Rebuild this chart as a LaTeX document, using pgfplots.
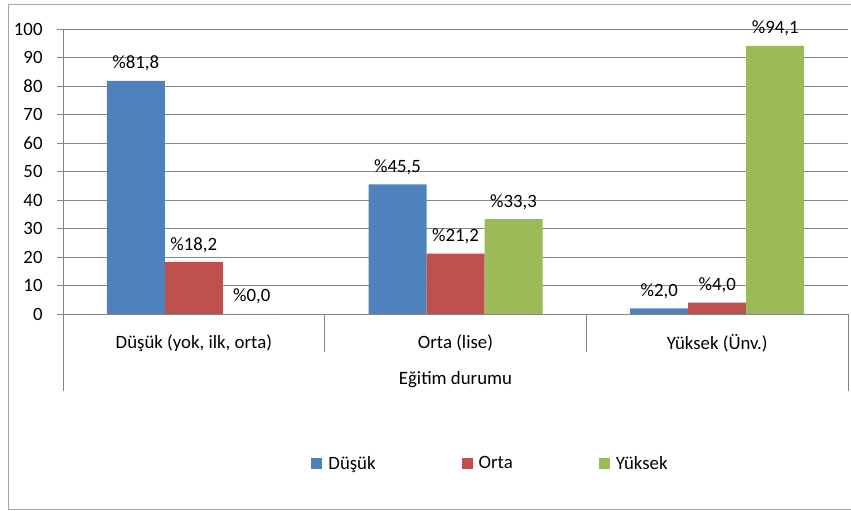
\documentclass[border=0pt]{standalone}
\usepackage{fontspec}
\setmainfont{Carlito}
\usepackage{pgfplots}
\pgfplotsset{compat=1.18}
\definecolor{cblue}{HTML}{4F81BD}
\definecolor{cred}{HTML}{C0504D}
\definecolor{cgreen}{HTML}{9BBB59}
\definecolor{gridc}{HTML}{868686}
\definecolor{framec}{HTML}{A6A6A6}
\begin{document}
\fontsize{18.8pt}{22pt}\selectfont
\begin{tikzpicture}[x=1pt,y=1pt]
\useasboundingbox (0,0) rectangle (851,511);
\draw[framec, line width=1pt] (8,1) rectangle (870,506.5);
\begin{axis}[
  at={(63pt,197pt)}, anchor=south west,
  scale only axis, width=785pt, height=285pt,
  xmin=-0.5, xmax=2.5, ymin=0, ymax=100,
  axis x line*=bottom, axis y line*=left,
  axis line style={gridc, line width=0.8pt},
  ytick={0,10,...,100},
  ymajorgrids, grid style={gridc, line width=0.8pt},
  xtick={0,1,2}, xticklabels={{Düşük (yok, ilk, orta)},{Orta (lise)},{Yüksek (Ünv.)}},
  x tick style={draw=none},
  y tick style={gridc, line width=0.8pt},
  tick align=outside, major tick length=6pt,
  /pgf/number format/assume math mode=true,
  yticklabel style={xshift=-8pt},
  xticklabel style={anchor=center, yshift=-23pt},
  xlabel={Eğitim durumu},
  xlabel style={at={(axis description cs:0.5,-0.2316)}, anchor=center},
  ybar=0pt, bar width=58pt,
  nodes near coords={\%\pgfmathprintnumber[fixed,zerofill,precision=1,use comma,assume math mode=true]{\pgfplotspointmeta}},
  every node near coord/.append style={anchor=base, yshift=12pt, text=black},
  legend style={draw=none, at={(0.5446,-0.5263)}, anchor=center, legend columns=3,
    /tikz/every odd column/.append style={column sep=4pt},
    /tikz/every even column/.append style={column sep=84pt}},
  legend image code/.code={\fill[#1] (0pt,-5.5pt) rectangle (11pt,5.5pt);},
]
\addplot[fill=cblue, draw=none] coordinates {(0,81.8) (1,45.5) (2,2.0)};
\addplot[fill=cred, draw=none] coordinates {(0,18.2) (1,21.2) (2,4.0)};
\addplot[fill=cgreen, draw=none] coordinates {(0,0.0) (1,33.3) (2,94.1)};
\legend{Düşük, Orta, Yüksek}
\end{axis}
\draw[gridc, line width=0.8pt] (63,197)--(63,120);
\draw[gridc, line width=0.8pt] (324.67,197)--(324.67,159);
\draw[gridc, line width=0.8pt] (586.33,197)--(586.33,159);
\draw[gridc, line width=0.8pt] (848,197)--(848,120);
\end{tikzpicture}
\end{document}
